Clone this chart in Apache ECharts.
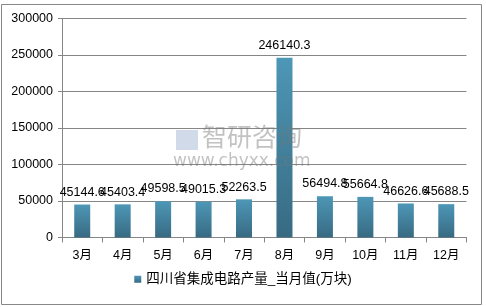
<!DOCTYPE html>
<html>
<head>
<meta charset="utf-8">
<script src="https://cdn.jsdelivr.net/npm/echarts@6/dist/echarts.min.js"></script>
<style>html,body{margin:0;padding:0;background:#fff;}#c{width:486px;height:307px;}</style>
</head>
<body>
<div id="c"></div>
<script>
const categories = ['3月','4月','5月','6月','7月','8月','9月','10月','11月','12月'];
const values = [45144.6, 45403.4, 49598.5, 49015.3, 52263.5, 246140.3, 56494.8, 55664.8, 46626.6, 45688.5];
const seriesName = '四川省集成电路产量_当月值(万块)';
const yTicks = [0, 50000, 100000, 150000, 200000, 250000, 300000];

const chart = echarts.init(document.getElementById('c'), null, {renderer: 'canvas'});
const font = '"Liberation Sans", "Noto Sans CJK SC", sans-serif';
chart.setOption({
  animation: false,
  backgroundColor: '#fff',
  graphic: [
    {type: 'rect', shape: {x: 1.5, y: 4.5, width: 480, height: 300}, style: {fill: null, stroke: '#888', lineWidth: 1}, z: -1},
    {type: 'rect', shape: {x: 176, y: 130, width: 22, height: 20}, style: {fill: 'rgba(120,150,190,0.35)'}, z: 100},
    {type: 'text', left: 202, top: 124, style: {text: '智研咨询', font: '25px "Noto Sans CJK SC"', fill: 'rgba(120,120,120,0.45)'}, z: 100},
    {type: 'text', left: 173, top: 153, style: {text: 'www.chyxx.com', font: '17px "DejaVu Sans"', fill: 'rgba(120,120,120,0.45)'}, z: 100}
  ],
  grid: {left: 62, right: 19.5, top: 18.5, bottom: 69.5, containLabel: false},
  legend: {
    bottom: 16, left: 'center',
    itemWidth: 7, itemHeight: 7, itemGap: 4,
    icon: 'rect',
    textStyle: {fontSize: 13.5, color: '#000', fontFamily: font},
    data: [seriesName]
  },
  xAxis: {
    type: 'category', data: categories,
    axisLine: {lineStyle: {color: '#868686'}},
    axisTick: {show: true, length: 5, lineStyle: {color: '#868686'}},
    axisLabel: {color: '#000', fontSize: 12.5, margin: 12, fontFamily: font}
  },
  yAxis: {
    type: 'value', min: 0, max: 300000, interval: 50000,
    axisLine: {show: true, lineStyle: {color: '#868686'}},
    axisTick: {show: true, length: 4, lineStyle: {color: '#868686'}},
    splitLine: {lineStyle: {color: '#868686'}},
    axisLabel: {color: '#000', fontSize: 12.5, margin: 9, fontFamily: font, formatter: v => String(v)}
  },
  series: [{
    name: seriesName, type: 'bar', data: values, barWidth: 16,
    itemStyle: {
      color: new echarts.graphic.LinearGradient(0, 0, 0, 1, [
        {offset: 0, color: '#4d97b6'},
        {offset: 1, color: '#386a82'}
      ])
    },
    label: {show: true, position: 'top', color: '#000', fontSize: 12.5, fontFamily: font, distance: 6}
  }]
});
</script>
</body>
</html>
